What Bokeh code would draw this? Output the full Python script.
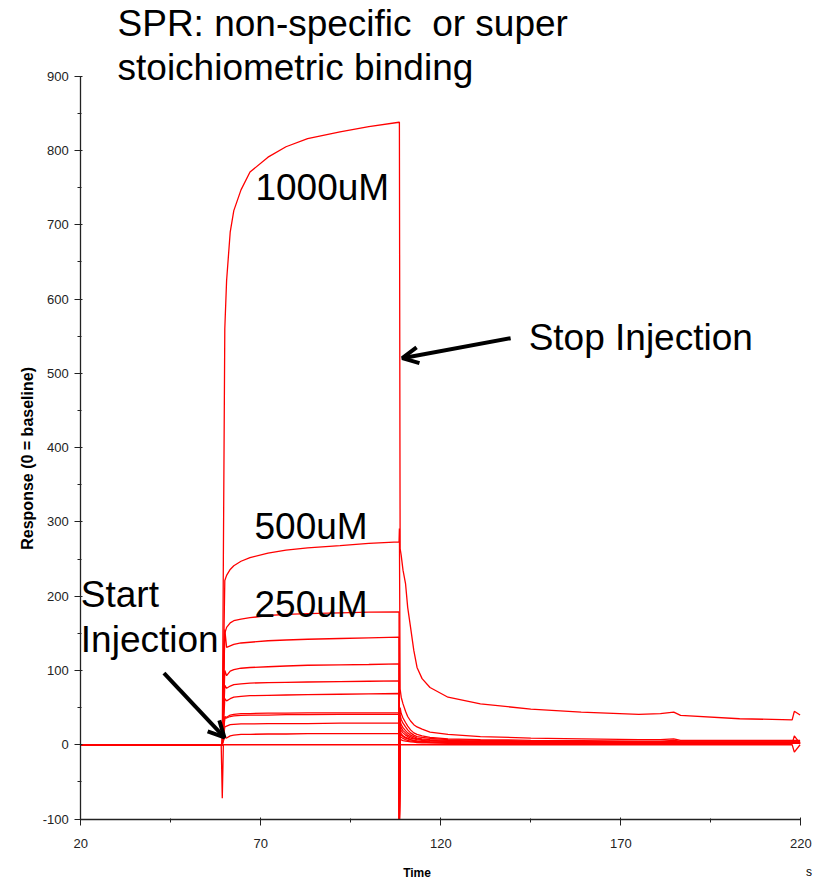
import math
from bokeh.plotting import figure
from bokeh.models import Range1d, FixedTicker, Label, Arrow, OpenHead
from bokeh.embed import file_html
from bokeh.resources import INLINE

# ---------------- data ----------------
x_ticks = [20, 70, 120, 170, 220]
x_minor = [45, 95, 145, 195]
y_ticks = [-100, 0, 100, 200, 300, 400, 500, 600, 700, 800, 900]
y_tick_labels = ["-100", "0", "100", "200", "300", "400", "500", "600", "700", "800", "900"]
y_minor = [-50, 50, 150, 250, 350, 450, 550, 650, 750, 850]

t_base = [20.0, 59.0]
t_assoc = [59.3, 59.6, 60.0, 60.5, 61.5, 62.5, 64.5, 67.0, 72.0, 77.0, 83.0, 92.0, 100.0, 108.4]
t_stop = 108.5
t_diss = [108.7, 109.0, 109.5, 110.2, 110.8, 111.6, 112.5, 113.4, 114.8, 117.0, 122.0, 131.0,
          145.0, 159.0, 175.0, 181.0, 184.7, 186.6, 203.0, 217.6, 218.2, 219.8]

r1000_assoc = [0, 250, 560, 625, 690, 719, 747, 771, 791, 805, 816, 825, 832, 838]
r1000_stop = 838
r1000_diss = [264, 255, 235, 217, 185, 158, 127, 104, 89, 77, 64, 55, 48, 44, 41, 42, 44, 39.5, 35, 33.6, 45, 40]

r500_assoc = [0, 100, 221, 228, 236, 241, 247, 252, 258, 262, 265, 268, 271, 273]
r500_stop = 291
r500_diss = [75, 64, 55, 45, 38, 32, 27, 24, 21, 17, 14, 11, 9, 8, 7, 7, 8, 6, 6, 6, 6, 6]

r250_assoc = [0, 60, 150, 158, 164, 167, 169, 171, 174, 175.5, 176.5, 177.5, 178.5, 179]
r250_stop = -100
r250_diss = [50, 42, 36, 30, 25, 20, 16, 14, 12, 10, 8, 7, 6, 5.5, 5, 5, 6, 5, 5, 5, 5, 5]

r145_assoc = [0, 60, 155, 131, 133, 135, 137, 138, 140, 141, 142, 143, 144, 145]
r145_stop = -100
r145_diss = [40, 34, 29, 24, 20, 16, 13, 11, 10, 8.5, 7, 6, 5, 4.5, 4, 4, 5, 4, 4, 4, 4, 4]

r109_assoc = [0, 40, 100, 93, 99, 101, 103, 104, 105, 106, 107, 107.5, 108, 109]
r109_stop = -100
r109_diss = [32, 27, 23, 19, 16, 13, 11, 9, 8, 7, 6, 5, 4.5, 4, 3.5, 3.5, 4.5, 3.5, 3.5, 3.5, 3.5, 3.5]

r86_assoc = [0, 30, 80, 76, 79, 81, 82, 83, 83.5, 84, 84.5, 85, 85.5, 86]
r86_stop = -100
r86_diss = [27, 23, 19, 16, 13, 11, 9, 8, 7, 6, 5, 4.5, 4, 3.5, 3, 3, 4, 3, 3, 3, 3, 3]

r69_assoc = [0, 25, 62, 59, 62, 64, 65, 66, 66.5, 67, 67.5, 68, 68.5, 69]
r69_stop = -100
r69_diss = [23, 19, 16, 13, 11, 9, 8, 7, 6, 5, 4.5, 4, 3.5, 3, 3, 3, 3.5, 3, 2.5, 2.5, 2.5, 2.5]

r43_assoc = [0, 15, 38, 37, 40, 41, 42, 42, 42.5, 42.5, 43, 43, 43, 43]
r43_stop = -100
r43_diss = [18, 15, 12, 10, 9, 7, 6, 5, 4.5, 4, 3.5, 3, 3, 2.5, 2.5, 2.5, 3, 2.5, 2.5, 2.5, 2.5, 2.5]

r41_assoc = [0, 14, 36, 36, 38, 39, 39.5, 40, 40, 40.5, 40.5, 41, 41, 41]
r41_stop = -100
r41_diss = [16, 13, 11, 9, 8, 6.5, 5.5, 5, 4, 3.5, 3, 3, 2.5, 2.5, 2, 2, 2.5, 2, 2, 2, 2, 2]

r28_assoc = [0, 10, 24, 25, 27, 27.5, 28, 28, 28.5, 28.5, 28.5, 29, 29, 29]
r28_stop = -100
r28_diss = [12, 10, 8.5, 7, 6, 5, 4.5, 4, 3.5, 3, 2.5, 2.5, 2, 2, 2, 2, 2.5, 2, 2, 2, 2, 2]

r15_assoc = [0, 5, 10, 9, 12, 13, 14, 14, 14.5, 14.5, 15, 15, 15, 15]
r15_stop = -100
r15_diss = [8, 6.5, 5.5, 5, 4.5, 4, 3.5, 3, 2.5, 2.5, 2, 2, 2, 1.5, 1.5, 1.5, 2, 1.5, 1.5, 1.5, 12, 1.5]

r0_assoc = [-72, 0, 0, 0, 0, 0, 0, 0, 0, 0, 0, 0, 0, 0]
r0_stop = -100
r0_diss = [0, 0, 0, 0, 0, 0, 0, 0, 0, 0, 0, 0, 0, 0, 0, 0, 0, 0, 0, 0, -10, 0]

curves = [
    (r1000_assoc, r1000_stop, r1000_diss),
    (r500_assoc, r500_stop, r500_diss),
    (r250_assoc, r250_stop, r250_diss),
    (r145_assoc, r145_stop, r145_diss),
    (r109_assoc, r109_stop, r109_diss),
    (r86_assoc, r86_stop, r86_diss),
    (r69_assoc, r69_stop, r69_diss),
    (r43_assoc, r43_stop, r43_diss),
    (r41_assoc, r41_stop, r41_diss),
    (r28_assoc, r28_stop, r28_diss),
    (r15_assoc, r15_stop, r15_diss),
    (r0_assoc, r0_stop, r0_diss),
]

# ---------------- figure ----------------
# The frame covers the whole canvas; the axes sit at fixed data locations so that
# the title and axis captions can live inside the frame.
p = figure(width=816, height=879, output_backend="svg", toolbar_location=None,
           x_range=Range1d(-2.306, 224.36), y_range=Range1d(-181.4, 1001.9),
           min_border_left=0, min_border_right=0, min_border_top=0, min_border_bottom=0)
p.outline_line_color = None
p.xgrid.visible = False
p.ygrid.visible = False
p.background_fill_color = "white"
p.border_fill_color = "white"

for assoc, stop, diss in curves:
    xs = t_base + t_assoc + [t_stop] + t_diss
    ys = [0, 0] + assoc + [stop] + diss
    p.line(xs, ys, line_color="#ff0000", line_width=1.3)

TICK_FONT = "Liberation Sans"
for ax in (p.xaxis[0], p.yaxis[0]):
    ax.axis_line_color = "#222222"
    ax.axis_line_width = 1.3
    ax.major_tick_line_color = "#222222"
    ax.minor_tick_line_color = "#222222"
    ax.major_tick_in = 2
    ax.major_tick_out = 6
    ax.minor_tick_in = 1
    ax.minor_tick_out = 3
    ax.major_label_text_font = TICK_FONT
    ax.major_label_text_font_size = "13px"
    ax.major_label_text_color = "#222222"

p.xaxis.ticker = FixedTicker(ticks=x_ticks, minor_ticks=x_minor)
p.yaxis.ticker = FixedTicker(ticks=y_ticks, minor_ticks=y_minor)
p.yaxis.major_label_overrides = {t: l for t, l in zip(y_ticks, y_tick_labels)}
p.xaxis.major_label_standoff = 14
p.yaxis.major_label_standoff = 6
p.xaxis.fixed_location = -100
p.yaxis.fixed_location = 20
p.xaxis.bounds = (20, 220)
p.yaxis.bounds = (-100, 900)

def lab(x, y, text, size, font="Liberation Sans", style="normal", align="left",
        baseline="alphabetic", angle=0.0):
    p.add_layout(Label(x=x, y=y, text=text, text_font=font, text_font_size=size,
                       text_font_style=style, text_align=align, text_baseline=baseline,
                       angle=angle, text_color="black"))

lab(113.4, -172.9, "Time", "12px", style="bold", align="center")
lab(5.33, 385.5, "Response (0 = baseline)", "16px", style="bold", align="center",
    baseline="middle", angle=math.pi / 2)
lab(222.3, -171.0, "s", "12px", align="center")

lab(30.2, 970.4, "SPR: non-specific\u00a0 or super", "37px")
lab(30.2, 911.2, "stoichiometric binding", "37px")
lab(68.5, 750.5, "1000uM", "37px")
lab(68.25, 293.2, "500uM", "37px")
lab(68.25, 188.6, "250uM", "37px")
lab(20.0, 202.1, "Start", "37px")
lab(20.0, 141.5, "Injection", "37px")
lab(144.4, 548.3, "Stop Injection", "37px")

p.add_layout(Arrow(x_start=43.1, y_start=96.5, x_end=59.9, y_end=9.8, line_width=4,
                   line_color="black",
                   end=OpenHead(size=16, line_width=4, line_color="black")))
p.add_layout(Arrow(x_start=139.4, y_start=547.3, x_end=109.3, y_end=520.4, line_width=4,
                   line_color="black",
                   end=OpenHead(size=16, line_width=4, line_color="black")))

open("out.html", "w").write(file_html(p, INLINE))
